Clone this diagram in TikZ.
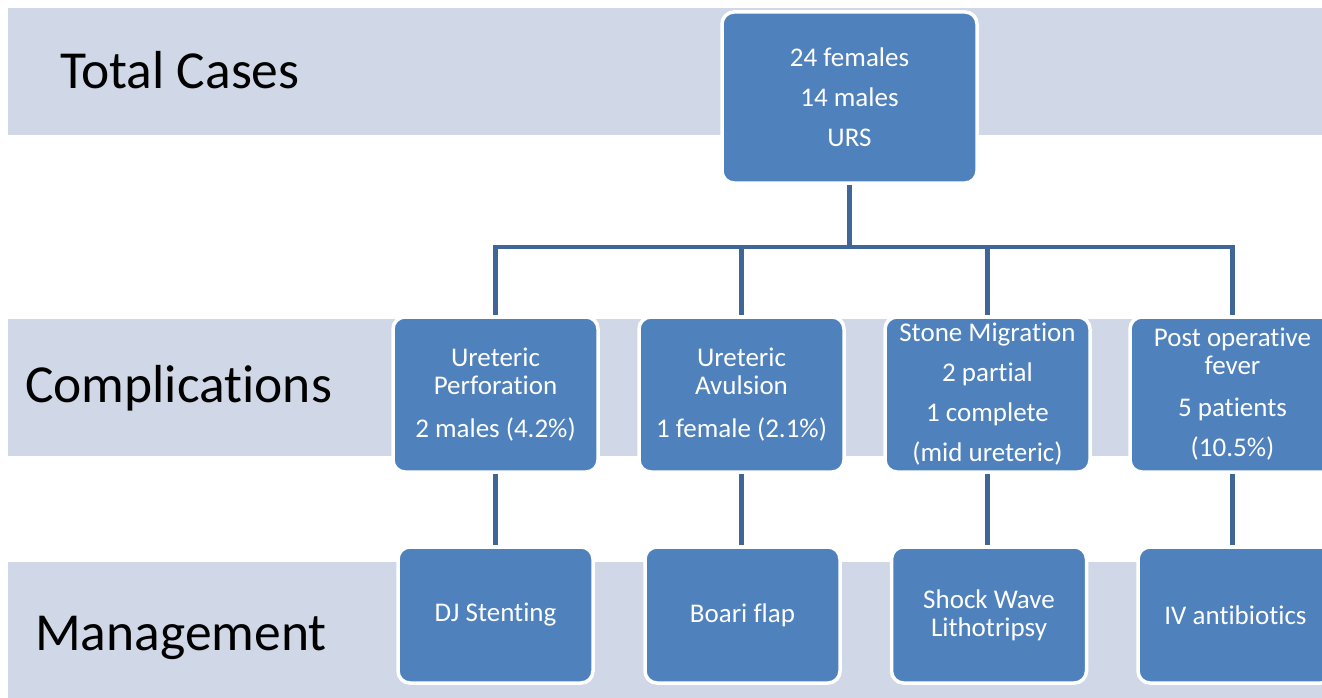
\documentclass[tikz,border=0pt]{standalone}
\usepackage{fontspec}
\setmainfont{Carlito}[Ligatures=NoCommon]
\definecolor{bandblue}{RGB}{208,216,232}
\definecolor{boxblue}{RGB}{79,129,189}
\definecolor{linkblue}{RGB}{64,102,152}

\begin{document}
\begin{tikzpicture}[x=1pt, y=-1pt,
  box/.style={draw=white, line width=3.5pt, fill=boxblue, rounded corners=12pt,
    text=white, align=center, font=\fontsize{27}{28}\selectfont},
  cbox/.style={box, minimum width=205pt, minimum height=155pt},
  mbox/.style={box, minimum width=195pt, minimum height=136pt},
  lbl/.style={anchor=base west, inner sep=0pt, font=\fontsize{53.5}{60}\selectfont},
  link/.style={draw=linkblue, line width=4.5pt}]
  \useasboundingbox (0,0) rectangle (1322,698);

  % background bands
  \fill[bandblue] (8,8) rectangle (1322,135);
  \fill[bandblue] (8,319) rectangle (1322,456);
  \fill[bandblue] (8,562) rectangle (1322,698);

  \node[lbl] (tot) at (60,89) {Total Cases};
  \node[lbl] (comp) at (25,402) {Complications};
  \node[lbl] (mgmt) at (35,650) {Management};

  \node[box, minimum width=255pt, minimum height=171pt] (top) at (849.5,97.5)
    {24 females\\[12pt]14 males\\[12pt]URS};

  \node[cbox] (c1) at (495.5,394.5) {Ureteric\\Perforation\\[15pt]2 males (4.2\%)};
  \node[cbox] (c2) at (741.5,394.5) {Ureteric\\Avulsion\\[15pt]1 female (2.1\%)};
  \node[cbox] (c3) at (987.5,394.5) {Stone Migration\\[12pt]2 partial\\[12pt]1 complete\\[12pt](mid ureteric)};
  \node[cbox] (c4) at (1232.5,394.5) {Post operative\\fever\\[14pt]5 patients\\[12pt](10.5\%)};

  \node[mbox] (m1) at (495.5,615) {DJ Stenting};
  \node[mbox] (m2) at (742.5,615) {Boari flap};
  \node[mbox] (m3) at (989,615) {Shock Wave\\Lithotripsy};
  \node[mbox] (m4) at (1235.5,615) {IV antibiotics};

  \coordinate (bus) at (849,247);
  \foreach \c in {c1,c2,c3,c4}
    \draw[link] (top.south) |- (bus) -| (\c.north);
  \foreach \c/\m in {c1/m1,c2/m2,c3/m3,c4/m4}
    \draw[link] (\c.south) -- (\c.south |- \m.north);
\end{tikzpicture}
\end{document}
